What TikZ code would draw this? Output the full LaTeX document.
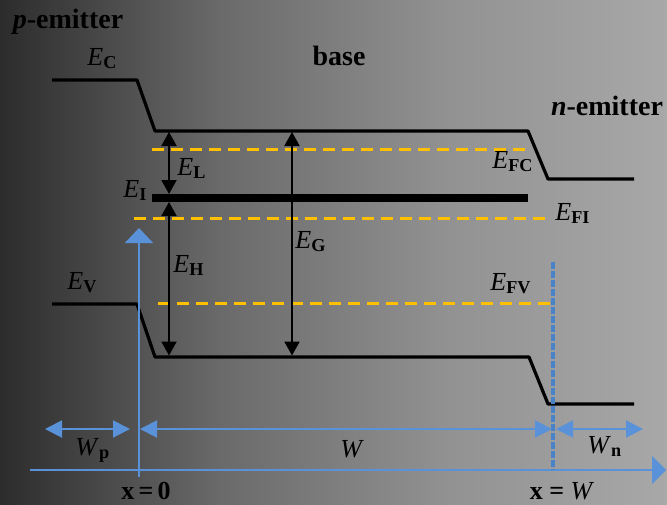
\documentclass[tikz,border=0pt]{standalone}
\usepackage{fontspec}
\setmainfont{Liberation Serif}
\usetikzlibrary{arrows.meta}
\definecolor{fermi}{HTML}{FFC000}
\definecolor{axisblue}{HTML}{5A92DA}
\definecolor{dashblue}{HTML}{4A82C8}
\definecolor{bgA}{HTML}{2C2C2C}
\definecolor{bgB}{HTML}{6A6A6A}
\definecolor{bgC}{HTML}{929292}
\definecolor{bgD}{HTML}{A8A8A8}
\pgfdeclarehorizontalshading{bandbg}{100bp}{color(0bp)=(bgA); color(25bp)=(bgA); color(41.5bp)=(bgB); color(58.7bp)=(bgC); color(75bp)=(bgD); color(100bp)=(bgD)}
\newcommand{\enlvl}[2]{\textit{#1}\textsubscript{\textbf{#2}}}
\tikzset{
  band/.style={line width=1.6pt, black, line join=round},
  fermiline/.style={line width=1.5pt, fermi, dash pattern=on 6pt off 3.5pt},
  gaparrow/.style={line width=1pt, {Triangle[length=7pt,width=7.5pt]}-{Triangle[length=7pt,width=7.5pt]}},
  axisline/.style={line width=1pt, axisblue},
  dimarrow/.style={axisline, {Triangle[length=8.5pt,width=8.5pt]}-{Triangle[length=8.5pt,width=8.5pt]}},
  lbl/.style={anchor=base west, inner sep=0pt},
}

\begin{document}
\begin{tikzpicture}[x=0.5pt, y=-0.5pt, font=\fontsize{13}{15}\selectfont]
    \useasboundingbox (0,0) rectangle (667,504);
    \shade[shading=bandbg] (0,0) rectangle (667,504);
    % quasi-Fermi levels
    \draw[fermiline] (152,149) -- (528,149);
    \draw[fermiline] (134,218) -- (550,218);
    \draw[fermiline] (158,303) -- (552,303);
    % bands
    \draw[band] (52,80) -- (137,80) -- (155,131) -- (528,131) -- (548,179) -- (634,179);
    \draw[band] (52,304) -- (137,304) -- (155,357) -- (529,357) -- (548,404) -- (634,404);
    \draw[black, line width=4pt] (152,198) -- (528,198);
    % gaps
    \coordinate (lTop) at (169,132); \coordinate (lBot) at (169,194);
    \coordinate (hTop) at (169,202); \coordinate (hBot) at (169,355.5);
    \coordinate (gTop) at (292,132); \coordinate (gBot) at (292,355.5);
    \draw[gaparrow] (lBot) -- (lTop);
    \draw[gaparrow] (hTop) -- (hBot);
    \draw[gaparrow] (gTop) -- (gBot);
    % axes and widths
    \coordinate (xO) at (139,477); \coordinate (yEnd) at (139,228);
    \coordinate (xS) at (30,470); \coordinate (xEnd) at (666,470);
    \draw[axisline, -{Triangle[length=7.5pt,width=14pt]}] (xO) -- (yEnd);
    \draw[axisline, -{Triangle[length=7pt,width=14pt]}] (xS) -- (xEnd);
    \coordinate (wTop) at (553,262); \coordinate (wBot) at (553,470);
    \draw[dashblue, line width=2pt, dash pattern=on 3.5pt off 1pt] (wTop) -- (wBot);
    \coordinate (pL) at (45,429); \coordinate (pR) at (130,429);
    \coordinate (bL) at (140,429); \coordinate (bR) at (552,429);
    \coordinate (nL) at (556,429); \coordinate (nR) at (643,429);
    \draw[dimarrow] (pL) -- (pR);
    \draw[dimarrow] (bL) -- (bR);
    \draw[dimarrow] (nL) -- (nR);
    % labels
    \node (pem) at (68,22) {\fontsize{14}{16}\selectfont\textbf{\textit{p}-emitter}};
    \node (base) at (339,56) {\fontsize{14}{16}\selectfont\textbf{base}};
    \node (nem) at (607,106) {\fontsize{14}{16}\selectfont\textbf{\textit{n}-emitter}};
    \node[lbl] (lEC) at (87,65) {\enlvl{E}{C}};
    \node[lbl] (lEL) at (177,175) {\enlvl{E}{L}};
    \node[lbl] (lEI) at (123,197) {\enlvl{E}{I}};
    \node[lbl] (lEG) at (295,248) {\enlvl{E}{G}};
    \node[lbl] (lEH) at (173,272) {\enlvl{E}{H}};
    \node[lbl] (lEV) at (67,289) {\enlvl{E}{V}};
    \node[lbl] (lEFC) at (492,168) {\enlvl{E}{FC}};
    \node[lbl] (lEFI) at (555,220) {\enlvl{E}{FI}};
    \node[lbl] (lEFV) at (490,290) {\enlvl{E}{FV}};
    \node[lbl] (lWp) at (75,455) {\enlvl{W}{p}};
    \node[lbl] (lW) at (340,457) {\textit{W}};
    \node[lbl] (lWn) at (587,453) {\enlvl{W}{n}};
    \node (x0) at (146,491) {\textbf{x\,=\,0}};
    \node (xW) at (562,491) {\textbf{x =} \textit{W}};
\end{tikzpicture}
\end{document}
